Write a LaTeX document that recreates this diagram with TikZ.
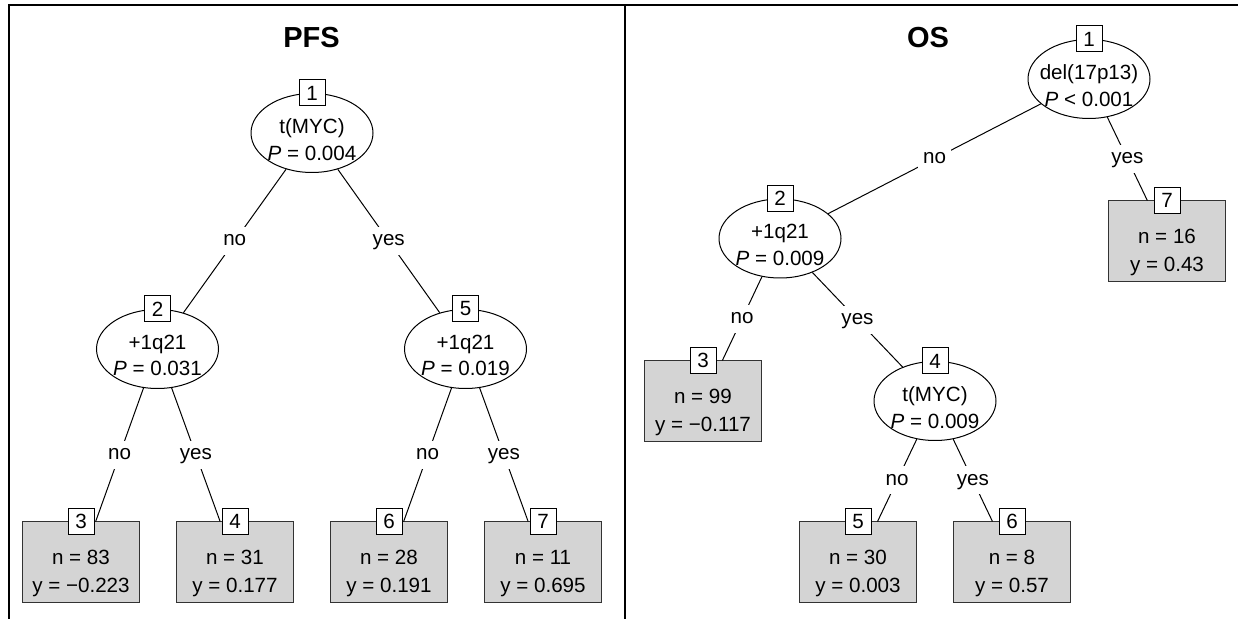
\documentclass[tikz,border=0pt]{standalone}
\usepackage{fontspec}
\setmainfont{Liberation Sans}
\usetikzlibrary{positioning, shapes.geometric}
\tikzstyle{splitnode}=[ellipse,draw=black,fill=white,line width=0.5pt,minimum width=61pt,minimum height=39.5pt,inner sep=0pt]
\tikzstyle{leafbox}=[rectangle,draw=black!80,fill=black!17,line width=0.5pt,minimum width=58.25pt,minimum height=40.5pt,inner sep=0pt]
\tikzstyle{idbox}=[rectangle,draw=black,fill=white,line width=0.5pt,minimum width=13pt,minimum height=13pt,inner sep=0pt,font=\fontsize{10.3}{12}\selectfont]
\tikzstyle{edgelab}=[fill=white,inner sep=2.5pt,text height=7pt,text depth=2pt,font=\fontsize{10.3}{12}\selectfont]
\tikzstyle{edgepath}=[line width=0.5pt]
\tikzstyle{condtext}=[align=center,font=\fontsize{10.3}{13.3}\selectfont,yshift=-3.2pt]
\tikzstyle{leaftext}=[align=center,font=\fontsize{10.3}{13.8}\selectfont,yshift=-5.5pt]
\tikzstyle{paneltitle}=[font=\fontsize{14.5}{17}\selectfont\bfseries]
\tikzstyle{frameline}=[line width=1.3pt]

\begin{document}
\begin{tikzpicture}[x=0.5pt,y=-0.5pt]
    \useasboundingbox (0,0) rectangle (1238,619);
    \draw[frameline] (1238,5) -- (9,5) -- (9,619);
    \draw[frameline] (625,5) -- (625,619);

    % PFS
    \node[paneltitle] (pfs) at (311.5,38) {PFS};
    \node[splitnode, label={[condtext]center:{t(MYC)\\\textit{P} = 0.004}}] (p1) at (312,133) {};
    \node[splitnode, label={[condtext]center:{+1q21\\\textit{P} = 0.031}}] (p2) at (157.5,349) {};
    \node[splitnode, label={[condtext]center:{+1q21\\\textit{P} = 0.019}}] (p5) at (465.5,349) {};
    \node[leafbox, label={[leaftext]center:{n = 83\\y = −0.223}}] (p3) at (81,562.5) {};
    \node[leafbox, label={[leaftext]center:{n = 31\\y = 0.177}}] (p4) at (235,562.5) {};
    \node[leafbox, label={[leaftext]center:{n = 28\\y = 0.191}}] (p6) at (389,562.5) {};
    \node[leafbox, label={[leaftext]center:{n = 11\\y = 0.695}}] (p7) at (543,562.5) {};

    \path[edgepath]
        (p1) edge node[edgelab, midway] {no} (p2)
        (p1) edge node[edgelab, midway] {yes} (p5)
        (p2) edge node[edgelab, midway] {no} (p3)
        (p2) edge node[edgelab, midway] {yes} (p4)
        (p5) edge node[edgelab, midway] {no} (p6)
        (p5) edge node[edgelab, midway] {yes} (p7);

    \node[idbox] (p1id) at (p1.north) {1};
    \node[idbox] (p2id) at (p2.north) {2};
    \node[idbox] (p5id) at (p5.north) {5};
    \node[idbox] (p3id) at (p3.north) {3};
    \node[idbox] (p4id) at (p4.north) {4};
    \node[idbox] (p6id) at (p6.north) {6};
    \node[idbox] (p7id) at (p7.north) {7};

    % OS
    \node[paneltitle] (os) at (928,38) {OS};
    \node[splitnode, label={[condtext]center:{del(17p13)\\\textit{P} < 0.001}}] (o1) at (1089,79) {};
    \node[splitnode, label={[condtext]center:{+1q21\\\textit{P} = 0.009}}] (o2) at (780,238.5) {};
    \node[splitnode, label={[condtext]center:{t(MYC)\\\textit{P} = 0.009}}] (o4) at (935,401) {};
    \node[leafbox, label={[leaftext]center:{n = 16\\y = 0.43}}] (o7) at (1167,241.5) {};
    \node[leafbox, label={[leaftext]center:{n = 99\\y = −0.117}}] (o3) at (703,401.5) {};
    \node[leafbox, label={[leaftext]center:{n = 30\\y = 0.003}}] (o5) at (858,562.5) {};
    \node[leafbox, label={[leaftext]center:{n = 8\\y = 0.57}}] (o6) at (1012,562.5) {};

    \path[edgepath]
        (o1) edge node[edgelab, midway] {no} (o2)
        (o1) edge node[edgelab, midway] {yes} (o7)
        (o2) edge node[edgelab, midway] {no} (o3)
        (o2) edge node[edgelab, midway] {yes} (o4)
        (o4) edge node[edgelab, midway] {no} (o5)
        (o4) edge node[edgelab, midway] {yes} (o6);

    \node[idbox] (o1id) at (o1.north) {1};
    \node[idbox] (o2id) at (o2.north) {2};
    \node[idbox] (o4id) at (o4.north) {4};
    \node[idbox] (o7id) at (o7.north) {7};
    \node[idbox] (o3id) at (o3.north) {3};
    \node[idbox] (o5id) at (o5.north) {5};
    \node[idbox] (o6id) at (o6.north) {6};
\end{tikzpicture}
\end{document}
